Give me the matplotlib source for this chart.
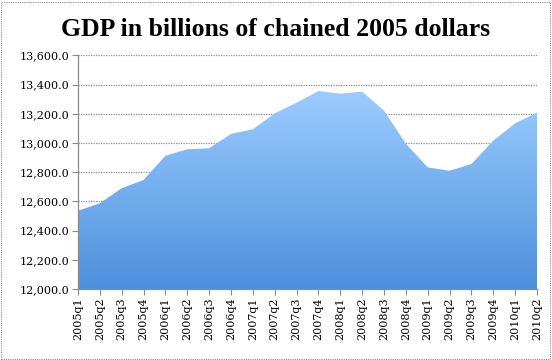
import numpy as np
import matplotlib
matplotlib.use("Agg")
import matplotlib.pyplot as plt
from matplotlib.patches import Polygon, Rectangle
from matplotlib.ticker import FuncFormatter

quarters = ['2005q1', '2005q2', '2005q3', '2005q4', '2006q1', '2006q2', '2006q3', '2006q4',
            '2007q1', '2007q2', '2007q3', '2007q4', '2008q1', '2008q2', '2008q3', '2008q4',
            '2009q1', '2009q2', '2009q3', '2009q4', '2010q1', '2010q2']
gdp = [12536, 12587, 12690, 12747, 12913, 12957, 12964, 13062,
       13094, 13203, 13276, 13356, 13338, 13352, 13222, 12995,
       12833, 12810, 12856, 13016, 13135, 13208]

fig = plt.figure(figsize=(5.52, 3.6), dpi=100)
ax = fig.add_axes([0.1413, 0.1972, 0.8315, 0.6489])

x = np.arange(len(gdp))
ymin, ymax = 12000, 13600

# gradient fill clipped to the area under the line
grad = np.linspace(0, 1, 256).reshape(-1, 1)
cmap = matplotlib.colors.LinearSegmentedColormap.from_list('g', ['#4d90dc', '#9dcdff'])
im = ax.imshow(grad, extent=[0, len(gdp) - 1, ymin, 13380], origin='lower',
               aspect='auto', cmap=cmap, zorder=2)
verts = [(0, ymin)] + list(zip(x, gdp)) + [(len(gdp) - 1, ymin)]
poly = Polygon(verts, closed=True, facecolor='none', edgecolor='none')
ax.add_patch(poly)
im.set_clip_path(poly)

ax.set_xlim(0, len(gdp) - 1)
ax.set_ylim(ymin, ymax)
ax.set_yticks(np.arange(12000, 13601, 200))
ax.yaxis.set_major_formatter(FuncFormatter(lambda v, p: f'{v:,.1f}'))
ax.set_xticks(x)
ax.set_xticklabels(quarters, rotation=90, fontsize=8, family='DejaVu Serif')
for lab in ax.get_yticklabels():
    lab.set_fontsize(8)
    lab.set_family('DejaVu Serif')

ax.grid(axis='y', color='#8c8c8c', linestyle=(0, (1, 1)), linewidth=0.9, zorder=1)
for s in ['top', 'right']:
    ax.spines[s].set_visible(False)
for s in ['left', 'bottom']:
    ax.spines[s].set_color('#8c8c8c')
    ax.spines[s].set_linewidth(0.9)
ax.tick_params(axis='both', colors='#8c8c8c', length=4, width=0.8, labelcolor='black', pad=2)
ax.set_axisbelow(True)

fig.text(0.5, 0.918, 'GDP in billions of chained 2005 dollars', ha='center', va='center',
         fontsize=18.5, fontweight='bold', family='Liberation Serif')

fig.patches.append(Rectangle((0.002, 0.003), 0.994, 0.992, transform=fig.transFigure,
                             fill=False, edgecolor='#8c8c8c', linestyle=(0, (1, 1)), linewidth=0.8))

fig.savefig('out.png', dpi=100)
